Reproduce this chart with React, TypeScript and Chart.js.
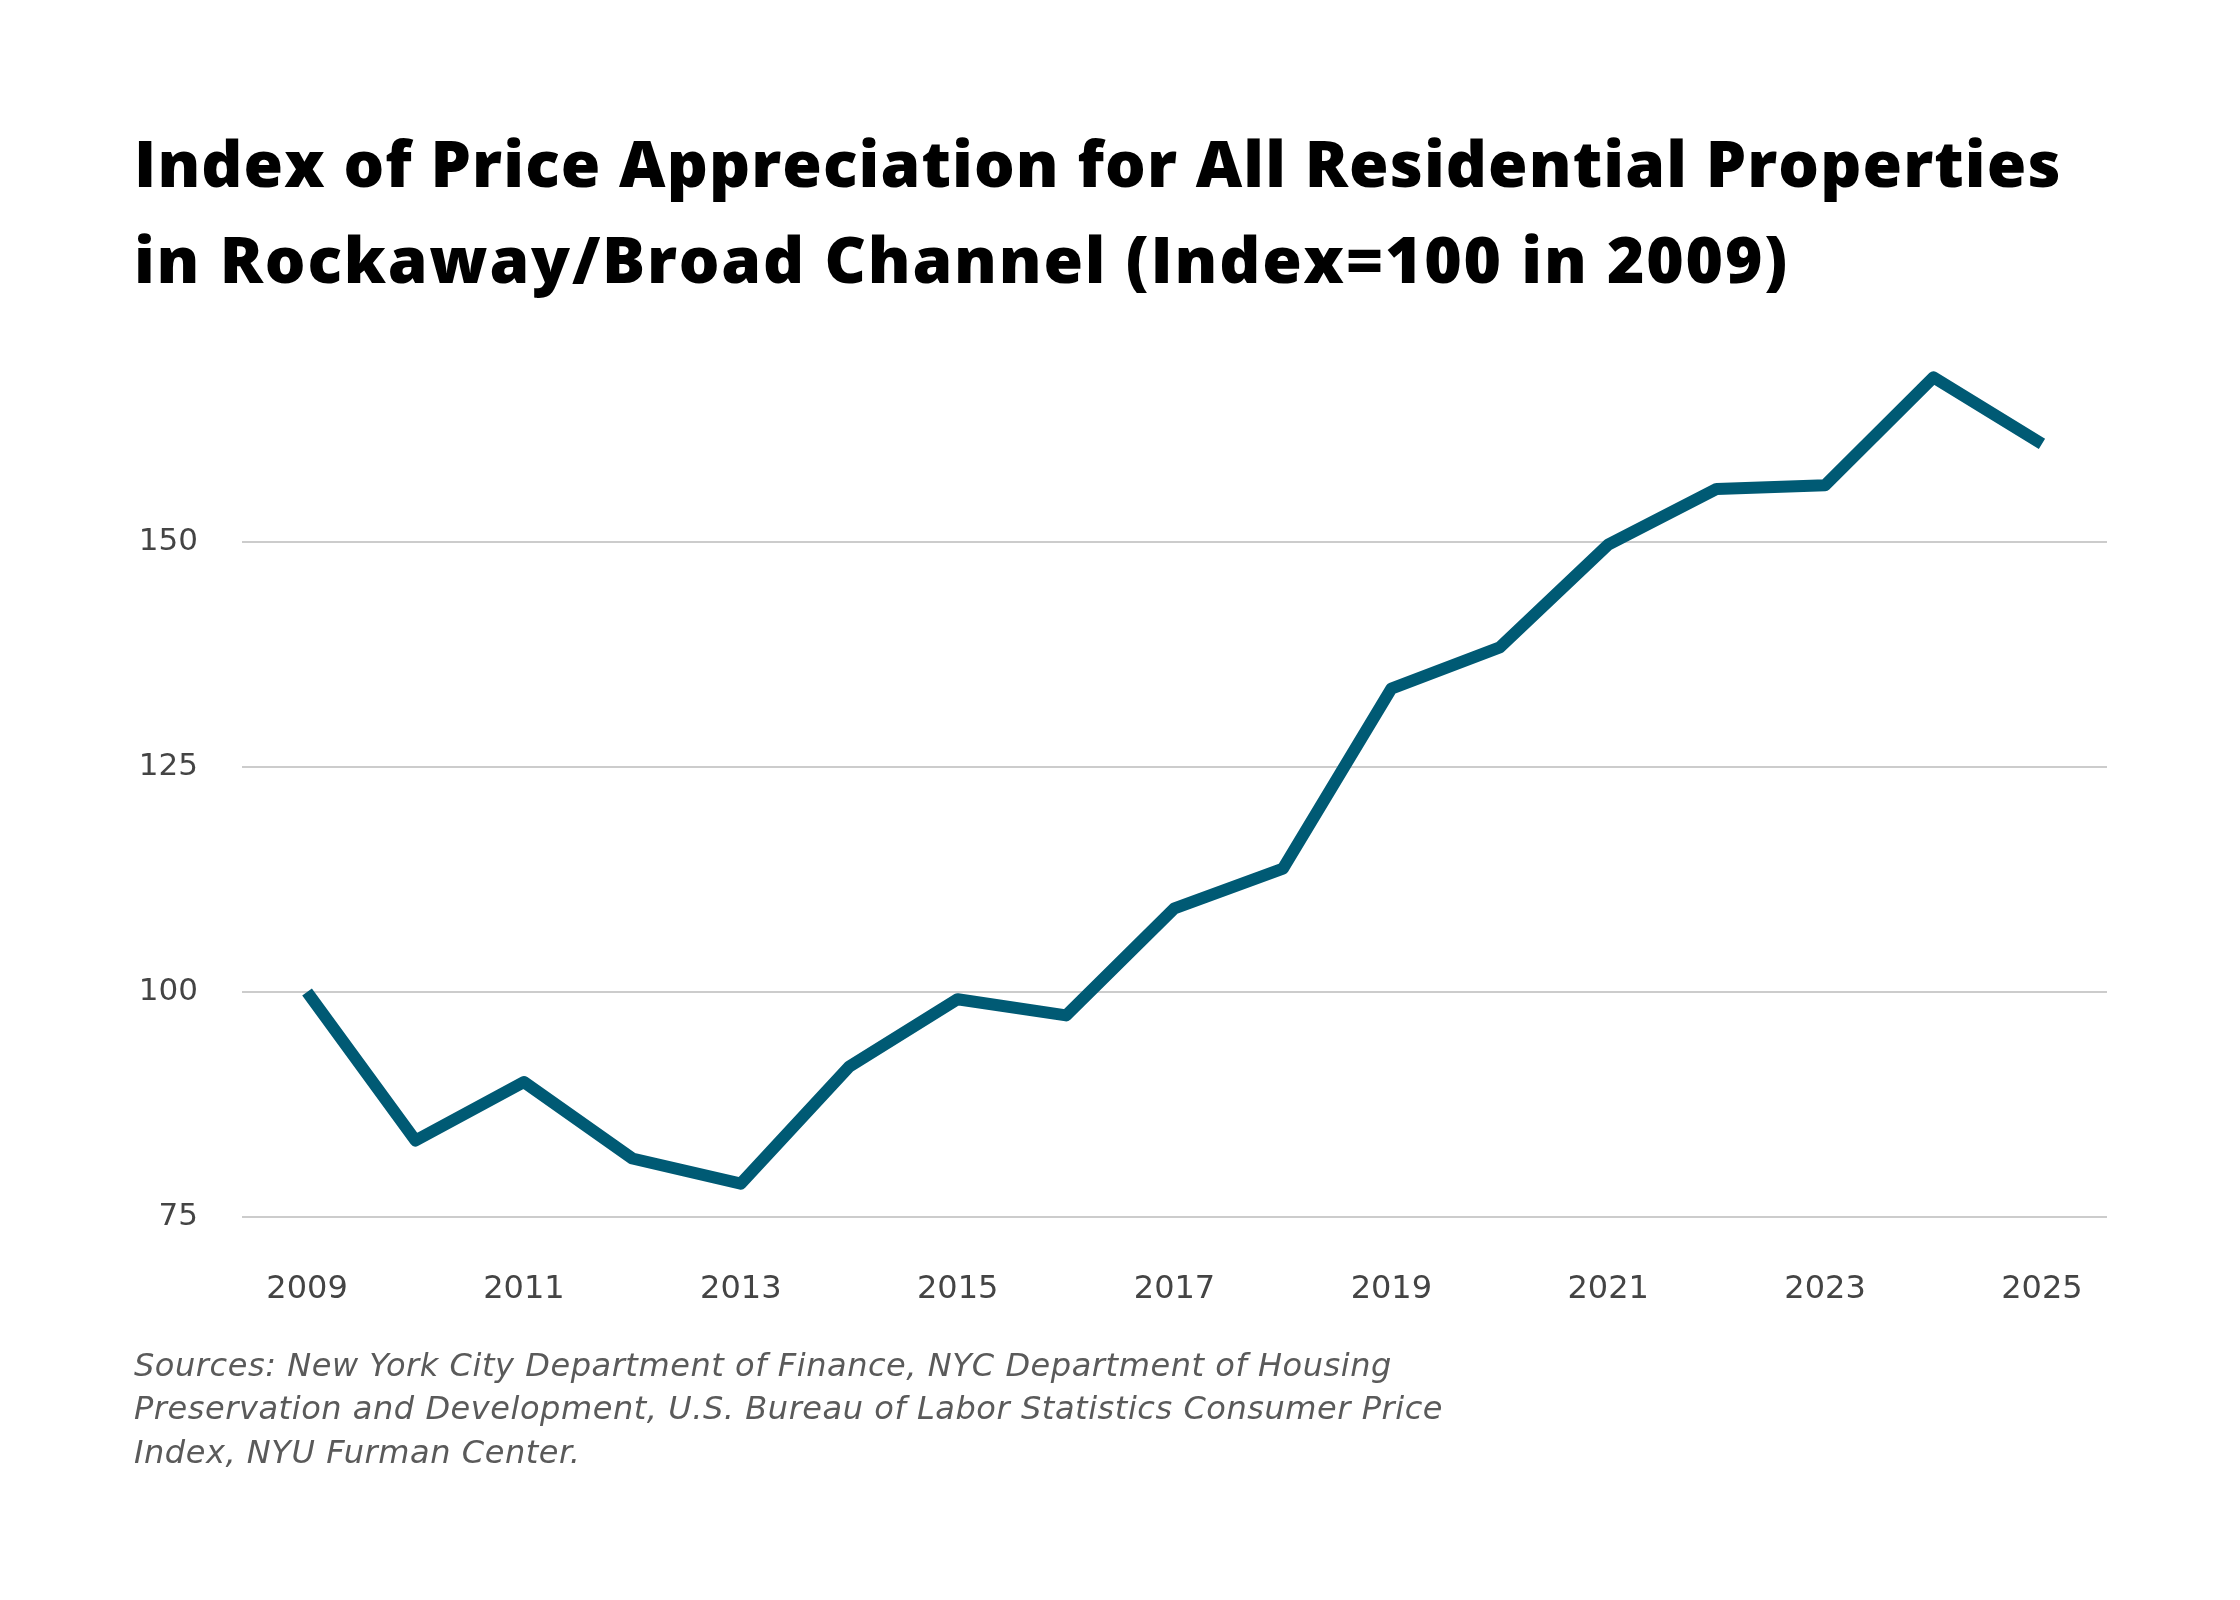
import React, { useEffect, useRef } from "react";
import { Chart, registerables } from "chart.js";

Chart.register(...registerables);

const years: number[] = [2009, 2010, 2011, 2012, 2013, 2014, 2015, 2016, 2017, 2018, 2019, 2020, 2021, 2022, 2023, 2024, 2025];
const indexValues: number[] = [100, 83.5, 90.0, 81.5, 78.7, 91.7, 99.2, 97.4, 109.3, 113.7, 133.7, 138.3, 149.7, 155.9, 156.3, 168.3, 160.9];
const xTickYears: number[] = [2009, 2011, 2013, 2015, 2017, 2019, 2021, 2023, 2025];
const yTickValues: number[] = [75, 100, 125, 150];

const titleLines: string[] = [
  "Index of Price Appreciation for All Residential Properties",
  "in Rockaway/Broad Channel (Index=100 in 2009)",
];
const titleSpacing: string[] = ["1.1px", "1.8px"];
const sourceLines: string[] = [
  "Sources: New York City Department of Finance, NYC Department of Housing",
  "Preservation and Development, U.S. Bureau of Labor Statistics Consumer Price",
  "Index, NYU Furman Center.",
];

export default function App() {
  const canvasRef = useRef<HTMLCanvasElement | null>(null);

  useEffect(() => {
    document.body.style.margin = "0";
    const canvas = canvasRef.current;
    if (!canvas) return;
    const chart = new Chart(canvas, {
      type: "line",
      data: {
        datasets: [
          {
            label: "Index",
            data: years.map((yr, i) => ({ x: yr, y: indexValues[i] })),
            borderColor: "#005a74",
            borderWidth: 12,
            borderJoinStyle: "round",
            borderCapStyle: "butt",
            pointRadius: 0,
            pointHoverRadius: 0,
            tension: 0,
            fill: false,
            clip: false as any,
          },
        ],
      },
      options: {
        animation: false,
        responsive: false,
        devicePixelRatio: 1,
        layout: { padding: { left: 0, right: 133, top: 344, bottom: 263 } },
        plugins: {
          legend: { display: false },
          title: { display: false },
          tooltip: { enabled: false },
        },
        scales: {
          x: {
            type: "linear",
            min: 2008.4,
            max: 2025.6,
            afterBuildTicks: (scale: any) => {
              scale.ticks = xTickYears.map((v) => ({ value: v }));
            },
            afterFit: (scale: any) => {
              scale.height = 120;
            },
            grid: { display: false, drawTicks: false },
            border: { display: false },
            ticks: {
              padding: 53,
              color: "#444444",
              font: { family: "'DejaVu Sans'", size: 32 },
              callback: (v: any) => String(v),
              maxRotation: 0,
              autoSkip: false,
            },
          },
          y: {
            type: "linear",
            min: 75,
            max: 172,
            afterBuildTicks: (scale: any) => {
              scale.ticks = yTickValues.map((v) => ({ value: v }));
            },
            afterFit: (scale: any) => {
              scale.width = 242;
            },
            grid: { color: "#cccccc", lineWidth: 2, drawTicks: false },
            border: { display: false },
            ticks: {
              padding: 44,
              color: "#444444",
              font: { family: "'DejaVu Sans'", size: 31 },
              callback: (v: any) => String(v),
            },
          },
        },
      },
    });
    return () => chart.destroy();
  }, []);

  return (
    <div style={{ position: "fixed", left: 0, top: 0, width: 2240, height: 1600, background: "#ffffff", overflow: "hidden" }}>
      <canvas ref={canvasRef} width={2240} height={1600} style={{ position: "absolute", left: 0, top: 0, width: 2240, height: 1600 }} />
      <div
        style={{
          position: "absolute",
          left: 134,
          top: 115,
          fontFamily: "'Open Sans', sans-serif",
          fontWeight: 800,
          fontSize: 64,
          lineHeight: "95.6px",
          color: "#000000",
          whiteSpace: "nowrap",
          fontVariantLigatures: "none",
        }}
      >
        {titleLines.map((t, i) => (
          <div key={i} style={{ letterSpacing: titleSpacing[i] }}>{t}</div>
        ))}
      </div>
      <div
        style={{
          position: "absolute",
          left: 134,
          top: 1344,
          fontFamily: "'DejaVu Sans', sans-serif",
          fontStyle: "italic",
          fontWeight: 400,
          fontSize: 32,
          lineHeight: "43.3px",
          color: "#5a5a5a",
          whiteSpace: "nowrap",
          letterSpacing: "0.55px",
        }}
      >
        {sourceLines.map((t, i) => (
          <div key={i}>{t}</div>
        ))}
      </div>
    </div>
  );
}
